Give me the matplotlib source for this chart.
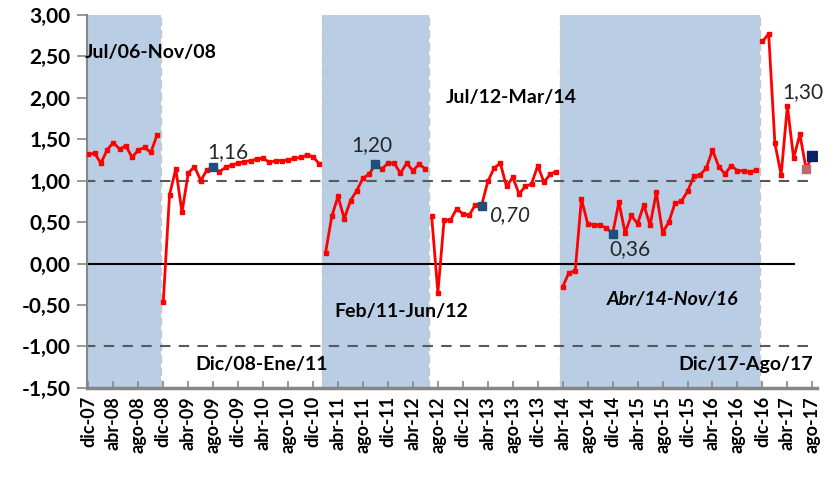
import matplotlib
matplotlib.use('Agg')
import matplotlib.pyplot as plt
import numpy as np

plt.rcParams['font.family'] = ['Lato', 'DejaVu Sans']

# monthly series, dic-07 .. ago-17, split by period (month index of first value)
p1 = [1.32, 1.33, 1.21, 1.37, 1.46, 1.38, 1.42, 1.28, 1.37, 1.40, 1.34, 1.55]
p2 = [-0.46, 0.83, 1.14, 0.62, 1.09, 1.17, 1.00, 1.13, 1.16, 1.11, 1.16, 1.19,
      1.21, 1.23, 1.24, 1.26, 1.27, 1.22, 1.24, 1.24, 1.25, 1.27, 1.28, 1.31,
      1.29, 1.20]
p3 = [0.13, 0.57, 0.81, 0.54, 0.76, 0.88, 1.03, 1.08, 1.20, 1.14, 1.21, 1.21,
      1.09, 1.21, 1.12, 1.20, 1.14]
p4 = [0.57, -0.35, 0.53, 0.52, 0.66, 0.60, 0.58, 0.71, 0.70, 0.99, 1.15, 1.21,
      0.93, 1.04, 0.84, 0.93, 0.96, 1.18, 0.98, 1.08, 1.11]
p5 = [-0.28, -0.11, -0.09, 0.78, 0.48, 0.47, 0.46, 0.43, 0.36, 0.74, 0.37, 0.58,
      0.48, 0.71, 0.46, 0.86, 0.37, 0.50, 0.73, 0.75, 0.87, 1.05, 1.07, 1.15,
      1.37, 1.17, 1.08, 1.18, 1.12, 1.12, 1.10, 1.13]
p6 = [2.68, 2.77, 1.45, 1.07, 1.90, 1.27, 1.56, 1.14, 1.30]
periods = [p1, p2, p3, p4, p5, p6]
period_start = [0, 12, 38, 55, 76, 108]

# shaded periods (first month, last month)
shade_start = [0, 38, 76]
shade_end = [11, 54, 107]

period_names = ['Jul/06-Nov/08', 'Dic/08-Ene/11', 'Feb/11-Jun/12',
                'Jul/12-Mar/14', 'Abr/14-Nov/16', 'Dic/17-Ago/17']

highlight_months = [20, 46, 63, 84, 116]
highlight_text = ['1,16', '1,20', '0,70', '0,36', '1,30']
prev_month = 115

tick_labels = ['dic-07', 'abr-08', 'ago-08', 'dic-08', 'abr-09', 'ago-09',
               'dic-09', 'abr-10', 'ago-10', 'dic-10', 'abr-11', 'ago-11',
               'dic-11', 'abr-12', 'ago-12', 'dic-12', 'abr-13', 'ago-13',
               'dic-13', 'abr-14', 'ago-14', 'dic-14', 'abr-15', 'ago-15',
               'dic-15', 'abr-16', 'ago-16', 'dic-16', 'abr-17', 'ago-17']

series = {}
for start, vals in zip(period_start, periods):
    for i, v in enumerate(vals):
        series[start + i] = v

fig = plt.figure(figsize=(8.3, 4.8), dpi=100)
ax = fig.add_axes([0.105, 0.192, 0.879, 0.777])

for s, e in zip(shade_start, shade_end):
    ax.axvspan(s - 0.5, e + 0.6, color='#b9cde5', lw=0, zorder=0)
    ax.axvline(e + 0.6, color='#c8c8c8', lw=1, ls=(0, (6, 3)), zorder=0.5)
    if s > 0:
        ax.axvline(s - 0.5, color='#c8c8c8', lw=1, ls=(0, (6, 3)), zorder=0.5)

ax.plot([-0.5, 115.5], [1, 1], color='#595959', lw=1.5, ls=(0, (5, 4)), zorder=2)
ax.plot([-0.5, 115.5], [-1, -1], color='#595959', lw=1.5, ls=(0, (5, 4)), zorder=2)
ax.plot([-0.5, 113], [0, 0], color='black', lw=1.5, zorder=2)

for start, vals in zip(period_start, periods):
    x = np.arange(start, start + len(vals))
    ax.plot(x, vals, color='#ff0000', lw=2, marker='s', ms=3, zorder=3)

ax.plot(prev_month, series[prev_month], 's', color='#b86a6e', ms=6, zorder=4)
hx = highlight_months
hy = [series[m] for m in hx]
ax.plot(hx, hy, 's', color='#1f4e79', ms=6, zorder=4)
ax.plot(hx[-1], hy[-1], 's', color='#0b2265', ms=7, zorder=5)

# value labels
ax.text(22.4, 1.35, highlight_text[0], fontsize=15, color='#262626', ha='center', va='center')
ax.text(45.4, 1.43, highlight_text[1], fontsize=15, color='#262626', ha='center', va='center')
ax.text(67.6, 0.59, highlight_text[2], fontsize=15, color='#262626', ha='center', va='center', style='italic')
ax.text(86.7, 0.17, highlight_text[3], fontsize=15, color='#262626', ha='center', va='center')
ax.text(114.4, 2.07, highlight_text[4], fontsize=15, color='#262626', ha='center', va='center')

# period labels
ax.text(-0.6, 2.55, period_names[0], fontsize=14, weight='bold', ha='left', va='center')
ax.text(27.7, -1.22, period_names[1], fontsize=14, weight='bold', ha='center', va='center')
ax.text(50.2, -0.58, period_names[2], fontsize=14, weight='bold', ha='center', va='center')
ax.text(67.8, 2.0, period_names[3], fontsize=14, weight='bold', ha='center', va='center')
ax.text(93.6, -0.44, period_names[4], fontsize=14, weight='bold', style='italic', ha='center', va='center')
ax.text(105.3, -1.22, period_names[5], fontsize=14, weight='bold', ha='center', va='center')

ax.set_xlim(-0.2, 116.7)
ax.set_ylim(-1.5, 3.0)

yt = np.arange(-1.5, 3.01, 0.5)
ax.set_yticks(yt)
ax.set_yticklabels([f'{v:.2f}'.replace('.', ',') for v in yt], fontsize=15, weight='bold')
ax.set_xticks(np.arange(0, 117, 4))
ax.set_xticklabels(tick_labels, rotation=90, fontsize=13, weight='bold')

ax.tick_params(axis='y', direction='out', length=7, width=1.2, color='#868686', pad=5)
ax.tick_params(axis='x', direction='in', length=5, width=1.2, color='#868686', pad=6)

for side in ['top', 'right']:
    ax.spines[side].set_visible(False)
ax.spines['left'].set_color('#868686')
ax.spines['left'].set_linewidth(1.5)
ax.spines['bottom'].set_color('#868686')
ax.spines['bottom'].set_linewidth(2.5)

fig.savefig('out.png', dpi=100)
